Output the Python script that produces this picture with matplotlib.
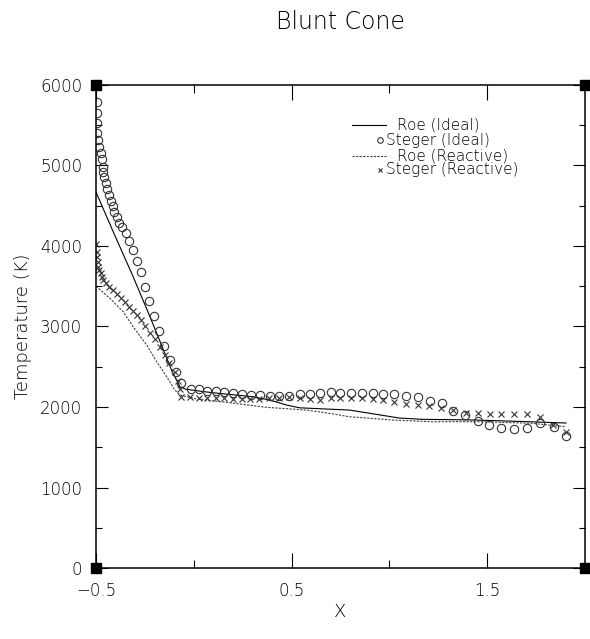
import matplotlib
matplotlib.use('Agg')
import matplotlib.pyplot as plt
from matplotlib.ticker import MultipleLocator, FixedLocator

# data
roe_ideal_x = [-0.5, -0.412, -0.31, -0.224, -0.165, -0.114, -0.071, -0.04, 0.097, 0.301, 0.388, 0.473, 0.541,
               0.796, 1.051, 1.168, 1.444, 1.714, 1.903]
roe_ideal_t = [4670, 4177, 3618, 3121, 2770, 2459, 2252, 2220, 2177, 2128, 2087, 2025, 1990,
               1962, 1863, 1847, 1838, 1817, 1801]

roe_react_x = [-0.5, -0.493, -0.429, -0.361, -0.31, -0.241, -0.19, -0.139, -0.097, -0.071, 0.014, 0.184, 0.371,
               0.575, 0.694, 0.796, 1.017, 1.219, 1.474, 1.73, 1.903]
roe_react_t = [3500, 3486, 3350, 3183, 2997, 2770, 2563, 2377, 2211, 2149, 2099, 2053, 1996,
               1962, 1921, 1879, 1838, 1817, 1817, 1797, 1755]

steger_ideal_x = [-0.5, -0.496, -0.496, -0.493, -0.493, -0.488, -0.483, -0.476, -0.471, -0.466, -0.463, -0.458,
                  -0.451, -0.442, -0.434, -0.425, -0.415, -0.407, -0.394, -0.381, -0.366, -0.348, -0.33, -0.31,
                  -0.289, -0.27, -0.25, -0.228, -0.204, -0.177, -0.152, -0.122, -0.093, -0.063, -0.015, 0.026,
                  0.065, 0.111, 0.153, 0.2, 0.246, 0.294, 0.34, 0.388, 0.435, 0.486, 0.544, 0.592, 0.643,
                  0.703, 0.748, 0.805, 0.859, 0.915, 0.969, 1.026, 1.085, 1.144, 1.208, 1.267, 1.323, 1.386,
                  1.451, 1.51, 1.573, 1.638, 1.706, 1.769, 1.842, 1.901]
steger_ideal_t = [6000, 5791, 5654, 5523, 5406, 5316, 5225, 5150, 5076, 4984, 4922, 4853,
                  4778, 4704, 4633, 4559, 4496, 4425, 4356, 4289, 4232, 4157, 4065, 3950,
                  3813, 3673, 3494, 3320, 3130, 2944, 2762, 2584, 2432, 2295, 2219, 2219,
                  2202, 2202, 2190, 2170, 2161, 2149, 2149, 2136, 2140, 2140, 2161, 2161, 2170,
                  2190, 2177, 2177, 2177, 2170, 2161, 2157, 2136, 2120, 2078, 2046, 1954, 1900,
                  1829, 1776, 1735, 1723, 1735, 1797, 1748, 1643]

steger_react_x = [-0.5, -0.496, -0.493, -0.488, -0.488, -0.483, -0.476, -0.471, -0.463, -0.449, -0.432, -0.415,
                  -0.394, -0.374, -0.352, -0.33, -0.31, -0.289, -0.272, -0.25, -0.224, -0.199, -0.173, -0.148,
                  -0.126, -0.097, -0.082, -0.07, -0.063, -0.02, 0.026, 0.07, 0.112, 0.155, 0.201, 0.246,
                  0.289, 0.333, 0.384, 0.435, 0.485, 0.544, 0.592, 0.643, 0.702, 0.748, 0.805, 0.859,
                  0.915, 0.969, 1.026, 1.085, 1.144, 1.204, 1.264, 1.323, 1.391, 1.454, 1.514, 1.573,
                  1.638, 1.706, 1.769, 1.837, 1.901]
steger_react_t = [4024, 3928, 3866, 3804, 3742, 3701, 3660, 3618, 3577, 3536, 3486, 3453,
                  3403, 3350, 3300, 3245, 3196, 3142, 3080, 3006, 2922, 2840, 2749, 2645,
                  2542, 2438, 2320, 2220, 2128, 2120, 2115, 2115, 2107, 2107, 2099, 2099,
                  2099, 2099, 2107, 2115, 2120, 2107, 2095, 2087, 2107, 2107, 2107, 2107,
                  2095, 2087, 2058, 2037, 2024, 2012, 1983, 1962, 1929, 1929, 1913, 1913,
                  1913, 1909, 1879, 1776, 1693]

labels = ["Roe (Ideal)", "Steger (Ideal)", "Roe (Reactive)", "Steger (Reactive)"]

plt.rcParams['font.family'] = ['DejaVu Sans']
plt.rcParams['font.weight'] = 'light'
plt.rcParams['axes.titleweight'] = 'light'
plt.rcParams['axes.labelweight'] = 'light'

fig = plt.figure(figsize=(5.9, 6.39), dpi=100)
ax = fig.add_axes([0.1627, 0.1111, 0.8288, 0.7559])

ax.plot(roe_ideal_x, roe_ideal_t, color='black', lw=0.8)
ax.plot(roe_react_x, roe_react_t, color='0.25', lw=0.8, dashes=(2, 1.2))
ax.plot(steger_ideal_x, steger_ideal_t, ls='none', marker='o', ms=6, mfc='none', mec='0.2', mew=0.8)
ax.plot(steger_react_x, steger_react_t, ls='none', marker='x', ms=4.5, mec='0.2', mew=0.8)

ax.set_xlim(-0.5, 2.0)
ax.set_ylim(0, 6000)
ax.xaxis.set_major_locator(FixedLocator([-0.5, 0.5, 1.5]))
ax.xaxis.set_minor_locator(FixedLocator([0.0, 1.0]))
ax.yaxis.set_major_locator(MultipleLocator(1000))
ax.yaxis.set_minor_locator(MultipleLocator(500))
ax.tick_params(axis='both', which='both', direction='in', top=True, right=True, labelsize=12, width=0.8)
ax.tick_params(axis='x', which='major', length=11, pad=10)
ax.tick_params(axis='x', which='minor', length=6)
ax.tick_params(axis='y', which='major', length=8.5, pad=10)
ax.tick_params(axis='y', which='minor', length=4.5)
for s in ax.spines.values():
    s.set_linewidth(1.1)

# black squares at the frame corners
ax.plot([0, 1, 0, 1], [0, 0, 1, 1], ls='none', marker='s', ms=7, color='black',
        transform=ax.transAxes, clip_on=False)

# legend drawn like the original: long line handles, small markers
tr = ax.transAxes
ax.plot([0.524, 0.593], [0.917, 0.917], color='black', lw=0.8, transform=tr)
ax.text(0.616, 0.917, labels[0], transform=tr, va='center', fontsize=11)
ax.plot([0.581], [0.886], marker='o', ms=4, mfc='none', mec='0.2', mew=0.8, transform=tr)
ax.text(0.593, 0.886, labels[1], transform=tr, va='center', fontsize=11)
ax.plot([0.524, 0.593], [0.853, 0.853], color='0.25', lw=0.8, dashes=(2, 1.2), transform=tr)
ax.text(0.616, 0.853, labels[2], transform=tr, va='center', fontsize=11)
ax.plot([0.581], [0.824], marker='x', ms=3.5, mec='0.2', mew=0.8, transform=tr)
ax.text(0.593, 0.824, labels[3], transform=tr, va='center', fontsize=11)

ax.set_title("Blunt Cone", fontsize=17, pad=40)
ax.set_xlabel("X", fontsize=13, labelpad=2)
ax.set_ylabel("Temperature (K)", fontsize=13, labelpad=6)

fig.savefig('out.png', dpi=100)
